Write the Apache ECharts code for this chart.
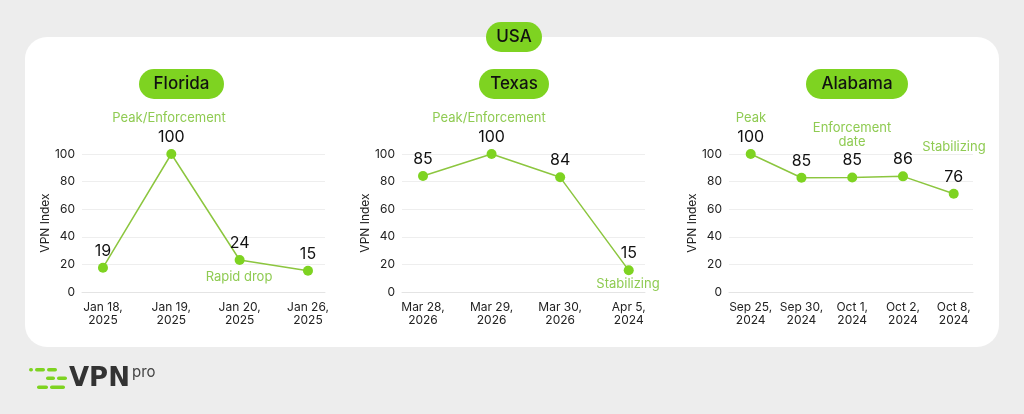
<!DOCTYPE html>
<html>
<head>
<meta charset="utf-8">
<title>VPN Index - USA</title>
<script src="https://cdn.jsdelivr.net/npm/echarts@6/dist/echarts.min.js"></script>
<style>
  html, body { margin: 0; padding: 0; background: #ededed; }
  #chart { width: 1024px; height: 414px; }
</style>
</head>
<body>
<div id="chart"></div>
<script>
// data
var floridaDates = ['Jan 18,\n2025', 'Jan 19,\n2025', 'Jan 20,\n2025', 'Jan 26,\n2025'];
var floridaLabels = [19, 100, 24, 15];      // printed numbers
var floridaPoints = [17.6, 100, 23.2, 15.4]; // where the dots sit
var floridaNotes = ['', 'Peak/Enforcement', 'Rapid drop', ''];

var texasDates = ['Mar 28,\n2026', 'Mar 29,\n2026', 'Mar 30,\n2026', 'Apr 5,\n2024'];
var texasLabels = [85, 100, 84, 15];
var texasPoints = [84, 100, 83.1, 15.7];
var texasNotes = ['', 'Peak/Enforcement', '', 'Stabilizing'];

var alabamaDates = ['Sep 25,\n2024', 'Sep 30,\n2024', 'Oct 1,\n2024', 'Oct 2,\n2024', 'Oct 8,\n2024'];
var alabamaLabels = [100, 85, 85, 86, 76];
var alabamaPoints = [100, 82.8, 83, 83.8, 71.2];
var alabamaNotes = ['Peak', '', 'Enforcement\ndate', '', 'Stabilizing'];

var yTicks = [0, 20, 40, 60, 80, 100];

var GREEN = '#7ed321';
var LINE = '#8cc63f';
var NOTE = '#8fcb52';
var FONT = 'Inter, "Noto Sans", sans-serif';

var myChart = echarts.init(document.getElementById('chart'));

// one panel = grid + axes + series
var panels = [
  { dates: floridaDates, labels: floridaLabels, points: floridaPoints, left: 82, width: 243, min: -0.307, max: 3.249 },
  { dates: texasDates, labels: texasLabels, points: texasPoints, left: 402, width: 243, min: -0.306, max: 3.237 },
  { dates: alabamaDates, labels: alabamaLabels, points: alabamaPoints, left: 729, width: 244, min: -0.428, max: 4.38 }
];

var grids = [], xAxes = [], yAxes = [], series = [];
panels.forEach(function (p, k) {
  grids.push({ left: p.left, width: p.width, top: 154, height: 138 });
  xAxes.push({
    type: 'value', gridIndex: k, min: p.min, max: p.max,
    splitLine: { show: false },
    axisTick: { show: false },
    axisLine: { show: true, lineStyle: { color: '#e4e4e4', width: 1 } },
    axisLabel: {
      customValues: p.dates.map(function (d, i) { return i; }),
      formatter: function (v) { return p.dates[Math.round(v)] || ''; },
      color: '#222', fontSize: 12, lineHeight: 13, margin: 9, fontFamily: FONT
    }
  });
  yAxes.push({
    type: 'value', gridIndex: k, min: yTicks[0], max: yTicks[yTicks.length - 1], interval: 20,
    name: 'VPN Index', nameLocation: 'middle', nameRotate: 90, nameGap: 31,
    nameTextStyle: { color: '#222', fontSize: 12, fontFamily: FONT },
    axisLine: { show: false }, axisTick: { show: false },
    axisLabel: { color: '#222', fontSize: 12, margin: 7, fontFamily: FONT },
    splitLine: { lineStyle: { color: '#eeeeee', width: 1 } }
  });
  series.push({
    type: 'line', xAxisIndex: k, yAxisIndex: k,
    data: p.points.map(function (v, i) { return [i, v]; }),
    symbol: 'circle', symbolSize: 10,
    itemStyle: { color: GREEN },
    lineStyle: { color: LINE, width: 1.5 },
    label: {
      show: true, position: 'top', distance: 4,
      color: '#111', fontSize: 16, fontFamily: FONT,
      formatter: function (params) { return p.labels[params.dataIndex]; }
    },
    silent: true, animation: false
  });
});

function pill(cx, cy, w, text) {
  return {
    type: 'group', left: cx - w / 2, top: cy - 15,
    children: [
      { type: 'rect', shape: { x: 0, y: 0, width: w, height: 30, r: 15 }, style: { fill: GREEN } },
      { type: 'text', style: { x: w / 2, y: 15, text: text, align: 'center', verticalAlign: 'middle',
        fill: '#111', font: '500 17px ' + FONT } }
    ]
  };
}

function note(cx, cy, text) {
  return { type: 'text', x: cx, y: cy,
    style: { text: text, align: 'center', verticalAlign: 'middle', fill: NOTE, font: '13px ' + FONT, lineHeight: 14 } };
}

var graphics = [
  // card behind everything
  { type: 'rect', z: -10, shape: { x: 25, y: 37, width: 974, height: 310, r: 22 }, style: { fill: '#ffffff' } },
  pill(514, 37, 56, 'USA'),
  pill(181.5, 84, 85, 'Florida'),
  pill(514, 84, 70, 'Texas'),
  pill(857, 84, 102, 'Alabama'),
  note(169, 118, floridaNotes[1]),
  note(239, 277, floridaNotes[2]),
  note(489, 118, texasNotes[1]),
  note(628, 284, texasNotes[3]),
  note(751, 118, alabamaNotes[0]),
  note(852, 135, alabamaNotes[2]),
  note(954, 147, alabamaNotes[4])
];

// logo: dashes + VPNpro
var dashes = [
  [29, 368, 4], [35, 368, 10], [47, 368, 10],
  [46, 376.5, 9], [57, 376.5, 10],
  [37, 385.5, 11], [50, 385.5, 15]
];
dashes.forEach(function (d) {
  graphics.push({ type: 'rect', shape: { x: d[0], y: d[1], width: d[2], height: 3.5, r: 1.75 }, style: { fill: GREEN } });
});
graphics.push({ type: 'text', x: 69, y: 379, style: { text: 'VPN', fill: '#333', font: 'bold 26px "DejaVu Sans", sans-serif', verticalAlign: 'middle' } });
graphics.push({ type: 'text', x: 132, y: 372, style: { text: 'pro', fill: '#444', font: '15px ' + FONT, verticalAlign: 'middle' } });

var option = {
  backgroundColor: '#ededed',
  animation: false,
  textStyle: { fontFamily: FONT },
  grid: grids,
  xAxis: xAxes,
  yAxis: yAxes,
  series: series,
  graphic: graphics
};
myChart.setOption(option);
</script>
</body>
</html>
